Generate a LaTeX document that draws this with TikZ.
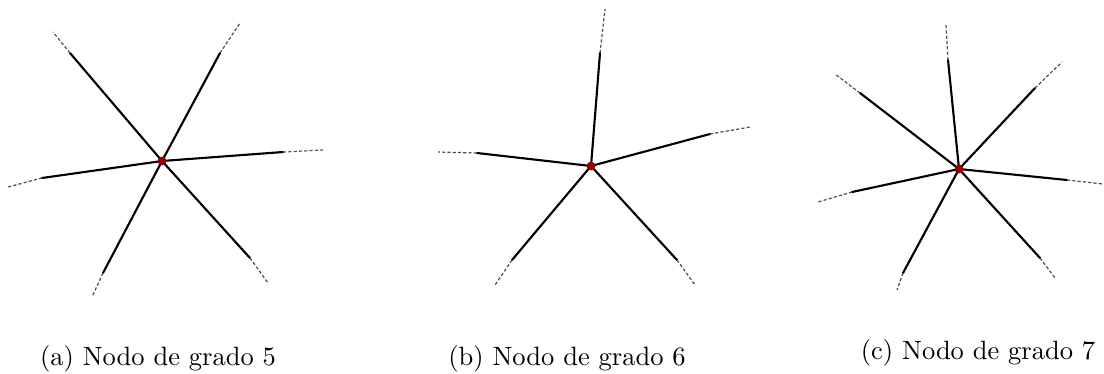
\documentclass[tikz,border=0pt]{standalone}
\begin{document}
\begin{tikzpicture}[x=0.01326cm,y=-0.01326cm,
  core/.style={line width=0.8pt,black,line cap=round},
  tipline/.style={line width=0.45pt,black!70,dash pattern=on 1.2pt off 0.8pt},
  hub/.style={circle,fill=red!60!black,inner sep=0pt,minimum size=3.2pt},
  captext/.style={anchor=base,inner sep=0pt,font=\normalsize}]
\useasboundingbox (0,0) rectangle (1104,373);
% (a)
\node[hub] (A) at (162,161) {};
\foreach \i/\sx/\sy/\ex/\ey in {1/70/53/53/32, 2/220/53/240/23, 3/283/152/323/150, 4/42/178/8/187, 5/103/273/92/297, 6/250/258/268/283}{
  \coordinate (As\i) at (\sx,\sy);
  \coordinate (Ae\i) at (\ex,\ey);
  \draw[core] (A.center) -- (As\i);
  \draw[tipline] (As\i) -- (Ae\i);
}
\node[hub] at (A) {};
% (b)
\node[hub] (B) at (591,166) {};
\foreach \i/\sx/\sy/\ex/\ey in {1/600/53/605/9, 2/710/134/750/127, 3/477/153/438/152, 4/512/260/495/285, 5/677/260/695/285}{
  \coordinate (Bs\i) at (\sx,\sy);
  \coordinate (Be\i) at (\ex,\ey);
  \draw[core] (B.center) -- (Bs\i);
  \draw[tipline] (Bs\i) -- (Be\i);
}
\node[hub] at (B) {};
% (c)
\node[hub] (C) at (959,169) {};
\foreach \i/\sx/\sy/\ex/\ey in {1/948/60/946/25, 2/1035/88/1062/62, 3/1067/180/1103/184, 4/860/93/835/74, 5/852/192/818/202, 6/903/273/897/290, 7/1040/258/1055/278}{
  \coordinate (Cs\i) at (\sx,\sy);
  \coordinate (Ce\i) at (\ex,\ey);
  \draw[core] (C.center) -- (Cs\i);
  \draw[tipline] (Cs\i) -- (Ce\i);
}
\node[hub] at (C) {};
% captions
\node[captext] (capa) at (158,365) {(a) Nodo de grado 5};
\node[captext] (capb) at (567,365) {(b) Nodo de grado 6};
\node[captext] (capc) at (978,359) {(c) Nodo de grado 7};
\end{tikzpicture}
\end{document}
